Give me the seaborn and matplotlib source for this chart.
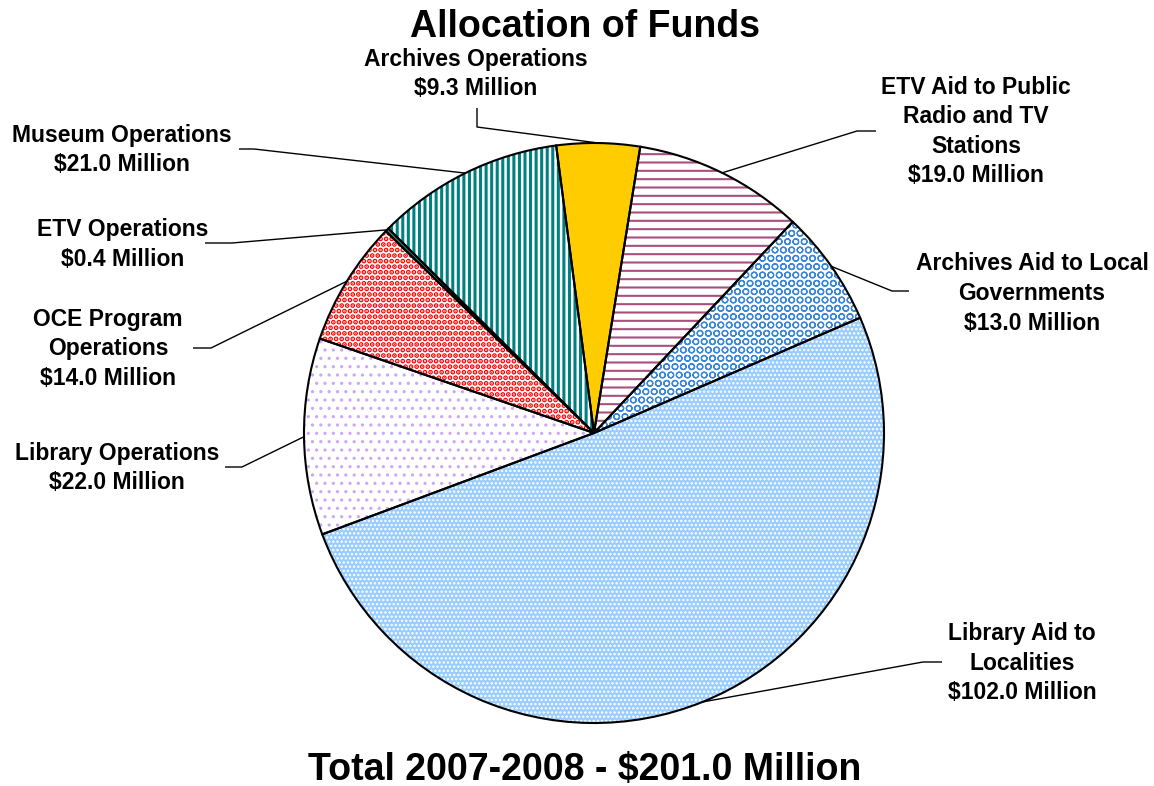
import numpy as np
import matplotlib
matplotlib.use("Agg")
import matplotlib.pyplot as plt
import seaborn as sns

sns.set_theme(style="white")
plt.rcParams["font.family"] = ["Liberation Sans", "DejaVu Sans"]
plt.rcParams["hatch.linewidth"] = 1.6

# Fund allocation, FY 2007-2008 (millions of dollars), clockwise from the top
categories = [
    "Archives Operations",
    "ETV Aid to Public\nRadio and TV\nStations",
    "Archives Aid to Local\nGovernments",
    "Library Aid to\nLocalities",
    "Library Operations",
    "OCE Program\nOperations",
    "ETV Operations",
    "Museum Operations",
]
amounts = [9.3, 19.0, 13.0, 102.0, 22.0, 14.0, 0.4, 21.0]
total_amount = 201.0
title = "Allocation of Funds"
total_caption = "Total 2007-2008 - ${:.1f} Million".format(total_amount)

# Slice styling: base fill, hatch pattern and hatch colour
fills = ["#FFCC00", "white", "white", "#99CCFF", "white", "white", "#2E8B8B", "white"]
hatches = ["", "--", "OO", "....", "..", "...", "", "|||"]
hatch_colors = ["#FFCC00", "#A8507F", "#3A86D9", "white", "#CBA6FA", "#FF0000",
                "#2E8B8B", "#008080"]
hatch_widths = [1.0, 1.5, 0.9, 1.2, 1.1, 2.5, 1.0, 2.2]

# Figure geometry (pixels): pie centre and radius
W, H = 1154, 786
CX, CY, R = 594, 433, 290


def px(x, y):
    """Pixel position -> data coordinates (pie radius = 1)."""
    return (x - CX) / R, (CY - y) / R


# Label layout in pixels: text centre, elbow of leader line, end of leader line
label_text_pos = [(476, 74), (976, 131.5), (1032, 293.5), (1022, 663),
                  (117, 468), (108, 349), (123, 244.5), (122, 150)]
leader_elbow = [(477, 127), (857, 131), (892, 291), (923, 662),
                (242, 467), (211, 348), (232, 243), (254, 149)]
leader_end = [(477, 108), (876, 131), (909, 291), (942, 662),
              (225, 467), (193, 348), (205, 243), (239, 149)]

fig = plt.figure(figsize=(W / 100, H / 100), dpi=100)
fig.patch.set_facecolor("white")
ax = fig.add_axes([0, 0, 1, 1])

common = dict(startangle=97.5, counterclock=False, radius=1, center=(0, 0))

# base fills
base, _ = ax.pie(amounts, colors=fills, wedgeprops=dict(linewidth=0), **common)
# hatch overlays
overlay, _ = ax.pie(amounts, hatch=hatches,
                    wedgeprops=dict(fill=False, linewidth=0), **common)
for w, c, lw in zip(overlay, hatch_colors, hatch_widths):
    w.set_edgecolor(c)
    if hasattr(w, "set_hatch_linewidth"):
        w.set_hatch_linewidth(lw)
# black outlines
outline, _ = ax.pie(amounts, wedgeprops=dict(fill=False, edgecolor="black",
                                              linewidth=1.5), **common)

# leader lines and labels
for i, w in enumerate(outline):
    mid = np.deg2rad((w.theta1 + w.theta2) / 2)
    x0, y0 = np.cos(mid), np.sin(mid)
    ex, ey = px(*leader_elbow[i])
    tx, ty = px(*leader_end[i])
    ax.plot([x0, ex, tx], [y0, ey, ty], color="black", linewidth=1.0,
            solid_capstyle="butt")
    lx, ly = px(*label_text_pos[i])
    text = "{}\n${:.1f} Million".format(categories[i], amounts[i])
    ax.text(lx, ly, text, ha="center", va="center", multialignment="center",
            fontsize=16.5, fontweight="bold", linespacing=1.37, color="black")

ax.text(*px(585, 27), title, ha="center", va="center",
        fontsize=27, fontweight="bold", color="black")
ax.text(*px(585, 770), total_caption, ha="center", va="center",
        fontsize=27, fontweight="bold", color="black")

x0, y0 = px(0, H)
x1, y1 = px(W, 0)
ax.set_xlim(x0, x1)
ax.set_ylim(y0, y1)
ax.set_aspect("equal")
ax.axis("off")

fig.savefig("out.png", dpi=100, facecolor="white")
